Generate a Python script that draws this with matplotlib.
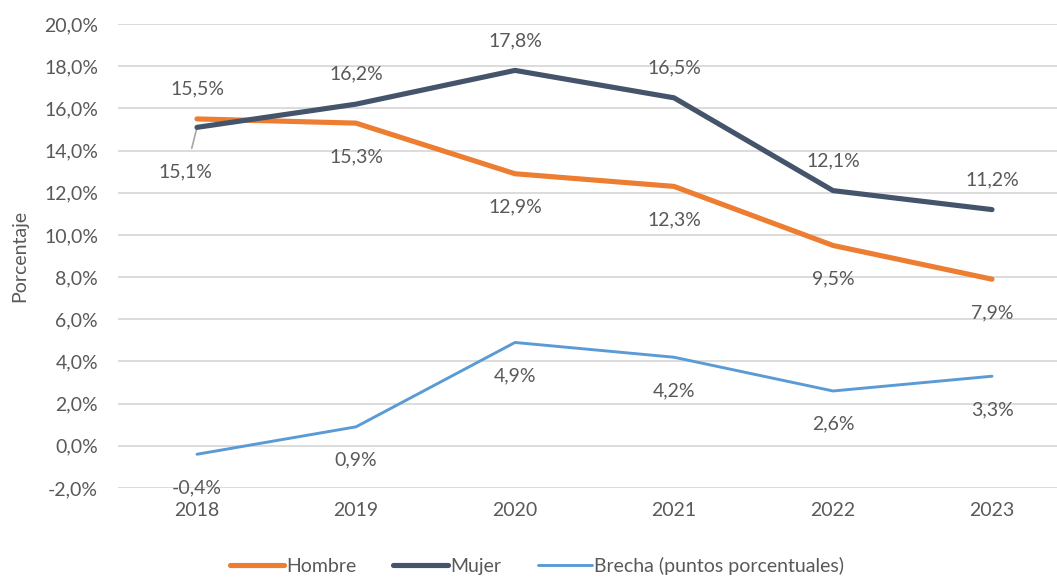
import matplotlib.pyplot as plt
from matplotlib.ticker import FuncFormatter

plt.rcParams['font.family'] = ['Lato', 'DejaVu Sans']

years = ['2018', '2019', '2020', '2021', '2022', '2023']
hombre = [15.5, 15.3, 12.9, 12.3, 9.5, 7.9]
mujer = [15.1, 16.2, 17.8, 16.5, 12.1, 11.2]
brecha = [-0.4, 0.9, 4.9, 4.2, 2.6, 3.3]

# label placement: +1 above the point, -1 below
hombre_pos = [1, -1, -1, -1, -1, -1]
mujer_pos = [-1, 1, 1, 1, 1, 1]
brecha_pos = [-1, -1, -1, -1, -1, -1]

c_h = '#ED7D31'
c_m = '#44546A'
c_b = '#5B9BD5'
txt = '#595959'
fs = 14


def pct(v):
    return ('%.1f%%' % v).replace('.', ',')


fig = plt.figure(figsize=(10.57, 5.77), dpi=100)
ax = fig.add_axes([117.5 / 1057, 89 / 577, 954 / 1057, 464 / 577])

x = list(range(len(years)))
ax.plot(x, hombre, color=c_h, lw=3.7, solid_capstyle='round', label='Hombre', zorder=3)
ax.plot(x, mujer, color=c_m, lw=3.7, solid_capstyle='round', label='Mujer', zorder=4)
ax.plot(x, brecha, color=c_b, lw=2.1, solid_capstyle='round',
        label='Brecha (puntos porcentuales)', zorder=3)

for series, pos in [(hombre, hombre_pos), (mujer, mujer_pos), (brecha, brecha_pos)]:
    for i, v in enumerate(series):
        if series is mujer and i == 0:
            continue
        off = 21.5 if pos[i] > 0 else -24
        ax.annotate(pct(v), (i, v), xytext=(0, off), textcoords='offset points',
                    ha='center', va='center', fontsize=fs, color=txt)

# 2018 Mujer label with leader line
ax.annotate(pct(mujer[0]), (0, mujer[0]), xytext=(-0.07, mujer[0] - 2.1),
            textcoords='data', ha='center', va='center', fontsize=fs, color=txt,
            arrowprops=dict(arrowstyle='-', color='#A6A6A6', lw=1.2,
                            shrinkA=9, shrinkB=0))

ax.set_xlim(-0.5, len(years) - 0.5)
ax.set_ylim(-2, 20)
ax.set_yticks([v for v in range(-2, 21, 2)])
ax.yaxis.set_major_formatter(FuncFormatter(lambda v, p: pct(v)))
ax.set_xticks(x)
ax.set_xticklabels(years)
ax.tick_params(length=0, labelsize=fs, colors=txt, pad=10)
ax.tick_params(axis='y', pad=14)
ax.grid(axis='y', color='#D9D9D9', lw=1.3)
ax.set_axisbelow(True)
for s in ax.spines.values():
    s.set_visible(False)

fig.text(20 / 1057, 1 - 256 / 577, 'Porcentaje', rotation=90, ha='center', va='center',
         fontsize=fs, color=txt)

fig.legend(loc='center', bbox_to_anchor=(537 / 1057, 1 - 566 / 577), ncol=3, frameon=False,
           fontsize=fs, labelcolor=txt, handlelength=2.8, handletextpad=0.1,
           columnspacing=1.9)

fig.savefig('out.png', dpi=100)
